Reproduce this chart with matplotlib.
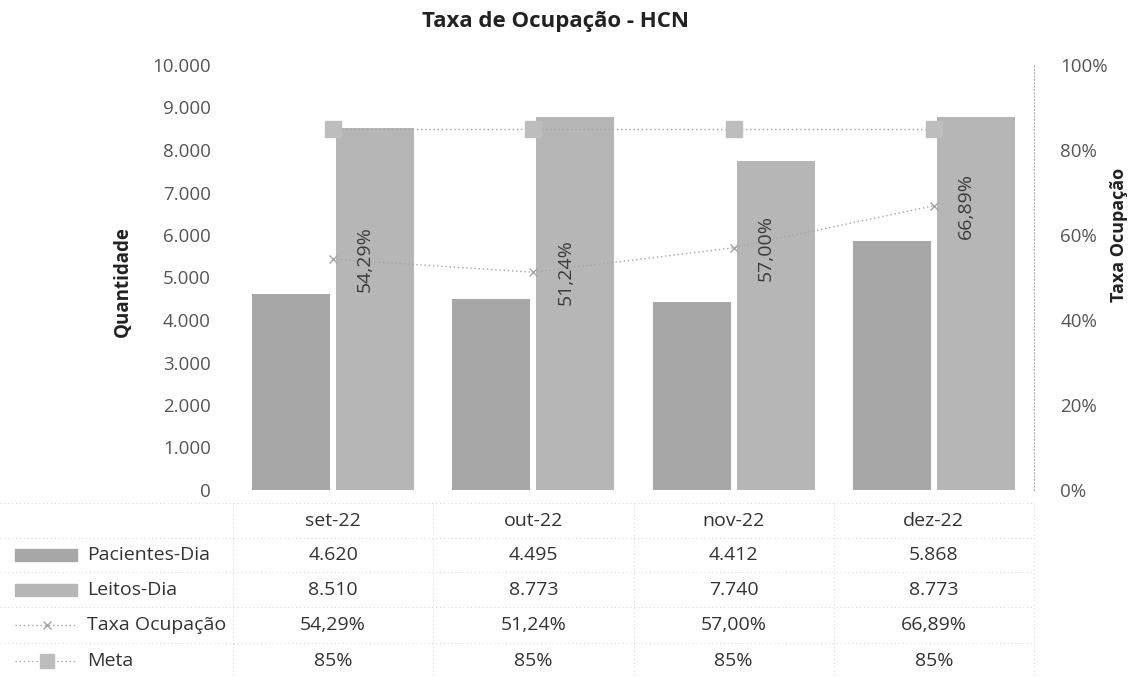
import matplotlib
matplotlib.use("Agg")
import matplotlib.pyplot as plt
from matplotlib.patches import Rectangle
from matplotlib.lines import Line2D
from matplotlib.transforms import blended_transform_factory
import numpy as np

plt.rcParams['font.family'] = ['Open Sans', 'DejaVu Sans']

categories = ["set-22", "out-22", "nov-22", "dez-22"]
pacientes = [4620, 4495, 4412, 5868]
leitos = [8510, 8773, 7740, 8773]
taxa = [54.29, 51.24, 57.00, 66.89]
meta = [85, 85, 85, 85]
left_ticks = [0, 1000, 2000, 3000, 4000, 5000, 6000, 7000, 8000, 9000, 10000]
right_ticks = [0, 20, 40, 60, 80, 100]

def fmt_int(v):
    return f"{v:,}".replace(",", ".")

def fmt_pct(v):
    return f"{v:.2f}%".replace(".", ",")

W, H = 1129, 677
fig = plt.figure(figsize=(W / 100, H / 100), dpi=100)
ax = fig.add_axes([233 / W, 1 - 490 / H, (1034 - 233) / W, (490 - 65) / H])
ax2 = ax.twinx()

x = np.arange(len(categories))
bw = 0.39
c_pac = "#a7a7a7"
c_lei = "#b6b6b6"
ax.bar(x - 0.21, pacientes, width=bw, color=c_pac, zorder=2)
ax.bar(x + 0.21, leitos, width=bw, color=c_lei, zorder=2)

ax.set_xlim(-0.5, len(categories) - 0.5)
ax.set_ylim(0, 10000)
ax.set_yticks(left_ticks)
ax.set_yticklabels([fmt_int(v) for v in left_ticks], fontsize=13.5, color="#555555")
ax.set_xticks([])
ax.tick_params(axis="y", length=0, pad=16)

ax2.set_ylim(0, 100)
ax2.set_yticks(right_ticks)
ax2.set_yticklabels([f"{v}%" for v in right_ticks], fontsize=13.5, color="#555555")
ax2.tick_params(axis="y", length=0, pad=19)

tc = "#a5a5a5"
ax2.plot(x, taxa, linestyle=(0, (1, 2)), color=tc, lw=1.0, marker="x", ms=6,
         mew=1.0, zorder=3)
ax2.plot(x, meta, linestyle=(0, (1, 2)), color=tc, lw=1.0, marker="s", ms=11,
         mfc="#bdbdbd", mec="#bdbdbd", zorder=3)

for i, t in enumerate(taxa):
    ax2.text(x[i] + 0.16, t, fmt_pct(t), rotation=90, ha="center", va="center",
             fontsize=14, color="#3a3a3a", zorder=4)

for a in (ax, ax2):
    for s in ("top", "bottom", "left"):
        a.spines[s].set_visible(False)
ax.spines["right"].set_visible(False)
ax2.spines["right"].set_linestyle((0, (1, 2)))
ax2.spines["right"].set_color("#b0b0b0")
ax2.spines["right"].set_linewidth(0.8)

ax.set_ylabel("Quantidade", fontsize=13.5, fontweight="bold", color="#222222")
ax.yaxis.set_label_coords(-0.125, 0.49)
ax2.set_ylabel("Taxa Ocupação", fontsize=13, fontweight="bold", color="#222222")
ax2.yaxis.set_label_coords(1.095, 0.6)

fig.text(556 / W, 1 - 21 / H, "Taxa de Ocupação - HCN", ha="center", va="center",
         fontsize=16, fontweight="bold", color="#222222")

# data table
trans = blended_transform_factory(ax.transData, fig.transFigure)
rows_y = [521, 555, 590, 625, 661]
row_labels = ["Pacientes-Dia", "Leitos-Dia", "Taxa Ocupação", "Meta"]
row_values = [[fmt_int(v) for v in pacientes],
              [fmt_int(v) for v in leitos],
              [fmt_pct(v) for v in taxa],
              [f"{v}%" for v in meta]]
tcol = "#333333"
fs_t = 14
for i, c in enumerate(categories):
    fig.text(x[i], 1 - rows_y[0] / H, c, transform=trans, ha="center", va="center",
             fontsize=fs_t, color=tcol)
for r, vals in enumerate(row_values):
    yy = 1 - rows_y[r + 1] / H
    for i, v in enumerate(vals):
        fig.text(x[i], yy, v, transform=trans, ha="center", va="center",
                 fontsize=fs_t, color=tcol)
    fig.text(87 / W, yy, row_labels[r], ha="left", va="center", fontsize=fs_t, color=tcol)

# legend keys
ft = fig.transFigure
for r, col in enumerate([c_pac, c_lei]):
    yc = rows_y[r + 1]
    fig.patches.append(Rectangle((15 / W, 1 - (yc + 6) / H), 62 / W, 12 / H,
                                 transform=ft, color=col, figure=fig))
for r, mk, ms in [(2, "x", 6), (3, "s", 10)]:
    yy = 1 - rows_y[r + 1] / H
    fig.lines.append(Line2D([15 / W, 77 / W], [yy, yy], transform=ft, color=tc,
                            lw=1.0, linestyle=(0, (1, 2)), figure=fig))
    fig.lines.append(Line2D([47 / W], [yy], transform=ft, color=tc, marker=mk, ms=ms,
                            mfc="#bdbdbd", mec="#bdbdbd" if mk == "s" else tc,
                            linestyle="none", figure=fig))

# faint table grid lines
gcol = "#d0d0d0"
bounds_y = [503, 538, 572, 607, 643, 677]
for by in bounds_y:
    fig.lines.append(Line2D([0, 1034 / W], [1 - by / H] * 2, transform=ft, color=gcol,
                            lw=0.7, linestyle=(0, (1, 3)), figure=fig))
for bx in [233, 433, 634, 834, 1034]:
    fig.lines.append(Line2D([bx / W] * 2, [1 - 503 / H, 0], transform=ft, color=gcol,
                            lw=0.7, linestyle=(0, (1, 3)), figure=fig))

fig.savefig("out.png", dpi=100)
